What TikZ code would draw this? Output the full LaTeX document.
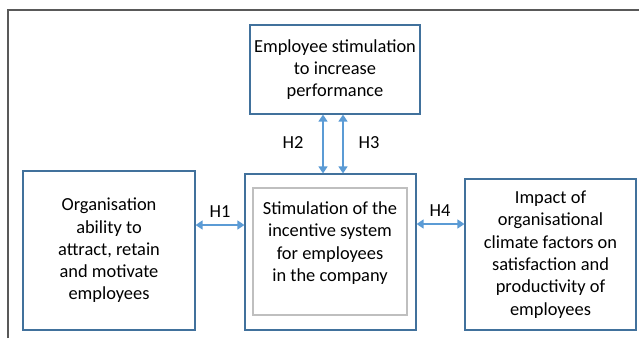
\documentclass[tikz,border=0pt]{standalone}
\usepackage{fontspec}
\setmainfont{Carlito}
\usetikzlibrary{arrows.meta,calc}
\definecolor{boxblue}{HTML}{41719C}
\definecolor{arrowblue}{HTML}{5B9BD5}
\definecolor{framegray}{HTML}{595959}
\tikzset{box/.style={draw=boxblue,line width=1.2pt,align=center,inner sep=0pt,
    font=\fontsize{18.4}{22.3}\selectfont},
  innerbox/.style={draw=gray!50,line width=1.2pt},
  link/.style={draw=arrowblue,line width=1.4pt,
    {Triangle[width=9pt,length=7pt]}-{Triangle[width=9pt,length=7pt]}},
  hlabel/.style={font=\fontsize{18.4}{22}\selectfont,inner sep=0pt}}

\begin{document}
\begin{tikzpicture}[x=1pt,y=-1pt]
          \useasboundingbox (0,0) rectangle (639,338);
          \draw[framegray,line width=1.2pt] (8,338) -- (8,10) -- (639,10);

          \node (perf) at (335,69.5) [box,minimum width=170pt,minimum height=89pt]
            {Employee stimulation\\to increase\\performance};
          \node (org) at (109,250.5) [box,minimum width=172pt,minimum height=159pt]
            {Organisation\\ability to\\attract, retain\\and motivate\\employees};
          \node (stim) at (330.5,252) [box,minimum width=171pt,minimum height=156pt]{};
          \node (inner) at (330,251.5) [innerbox,minimum width=154pt,minimum height=127pt]{};
          \node (stimtext) at (330,243) [box,draw=none]
            {Stimulation of the\\incentive system\\for employees\\in the company};
          \node (impact) at (550.5,254.5) [box,minimum width=171pt,minimum height=151pt]
            {Impact of\\organisational\\climate factors on\\satisfaction and\\productivity of\\employees};

          \node (h1) at (220,212) [hlabel] {H1};
          \node (h2) at (293,143) [hlabel] {H2};
          \node (h3) at (369,143) [hlabel] {H3};
          \node (h4) at (440,211) [hlabel] {H4};

          \draw[link] ([yshift=25.5pt]org.east) -- ([yshift=25.5pt]org.east -| stim.west);
          \draw[link] ([yshift=28pt]stim.east) -- ([yshift=28pt]stim.east -| impact.west);
          \draw[link] ([xshift=-12pt]perf.south) -- ([xshift=-12pt]perf.south |- stim.north);
          \draw[link] ([xshift=8pt]perf.south) -- ([xshift=8pt]perf.south |- stim.north);
        \end{tikzpicture}
\end{document}
